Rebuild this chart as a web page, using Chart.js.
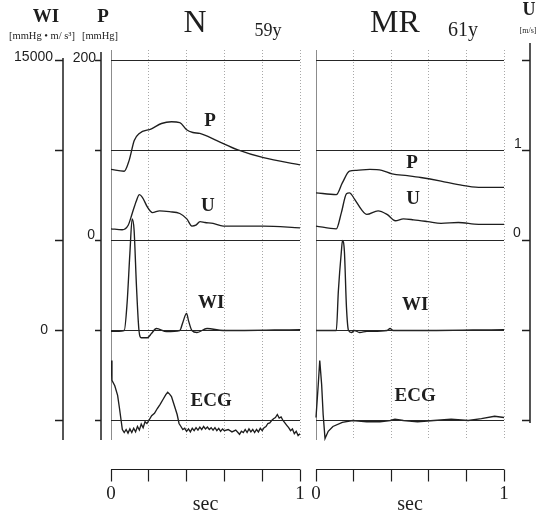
<!DOCTYPE html>
<html>
<head>
<meta charset="utf-8">
<script src="https://cdn.jsdelivr.net/npm/chart.js@4.4.1/dist/chart.umd.min.js"></script>
<style>
  html, body { margin: 0; padding: 0; background: #fff; }
  canvas { display: block; }
</style>
</head>
<body>
<canvas id="wave" width="540" height="515"></canvas>
<script>
/* Pressure, velocity, wave intensity and ECG: N (59y) vs MR (61y). */
const INK = "#1e1e1e";
const SERIF = "'Liberation Serif', 'DejaVu Serif', serif";
const SANS = "'Liberation Sans', Arial, sans-serif";

// ---- N, 59y (time in sec) ----
const nPTime = [0, 0.07, 0.096, 0.123, 0.15, 0.214, 0.267, 0.32, 0.364, 0.40, 0.433, 0.47, 0.56, 0.668, 0.807, 1.0];
const nP = [79, 77, 89, 111, 119, 124, 130, 132, 131, 123, 120, 119, 111, 101, 92, 84];          // mmHg

const nUTime = [0, 0.059, 0.091, 0.112, 0.134, 0.15, 0.166, 0.193, 0.219, 0.257, 0.31, 0.364, 0.401, 0.428, 0.449, 0.471, 0.497, 0.54, 0.594, 0.684, 0.807, 1.0];
const nU = [0.13, 0.12, 0.17, 0.30, 0.44, 0.51, 0.48, 0.37, 0.31, 0.33, 0.32, 0.30, 0.24, 0.16, 0.17, 0.21, 0.20, 0.19, 0.16, 0.16, 0.16, 0.14]; // m/s

const nWITime = [0, 0.07, 0.085, 0.1, 0.112, 0.122, 0.135, 0.148, 0.16, 0.193, 0.214, 0.24, 0.294, 0.364, 0.38, 0.40, 0.41, 0.428, 0.455, 0.508, 0.594, 1.0];
const nWI = [-50, 0, 1500, 4300, 6200, 5600, 2400, 0, -400, -400, -170, 110, -60, 0, 450, 950, 550, 0, -110, 110, 0, 50];

const nECGTime = [0, 0.005, 0.02, 0.035, 0.045, 0.06, 0.07, 0.08, 0.09, 0.1, 0.11, 0.12, 0.13, 0.14, 0.15, 0.16, 0.17, 0.18, 0.19, 0.2,
  0.215, 0.23, 0.245, 0.26, 0.275, 0.29, 0.3, 0.31, 0.32, 0.33, 0.34, 0.35, 0.36, 0.37, 0.38, 0.39, 0.4, 0.41, 0.42, 0.43,
  0.44, 0.45, 0.46, 0.47, 0.48, 0.49, 0.5, 0.51, 0.52, 0.53, 0.54, 0.55, 0.56, 0.57, 0.58, 0.59, 0.6, 0.62, 0.64, 0.66,
  0.68, 0.69, 0.7, 0.71, 0.72, 0.73, 0.74, 0.75, 0.76, 0.77, 0.78, 0.79, 0.8, 0.81, 0.82, 0.83, 0.84, 0.85, 0.86, 0.87,
  0.88, 0.89, 0.9, 0.91, 0.92, 0.93, 0.94, 0.95, 0.96, 0.97, 0.98, 0.99, 1.0];
const nECG = [1.0, 0.67, 0.58, 0.42, 0.2, -0.15, -0.2, -0.15, -0.21, -0.14, -0.2, -0.13, -0.19, -0.1, -0.16, -0.06, -0.12, -0.02, -0.05, 0.0,
  0.08, 0.12, 0.2, 0.27, 0.35, 0.43, 0.47, 0.44, 0.4, 0.3, 0.2, 0.1, -0.05, -0.1, -0.15, -0.13, -0.18, -0.14, -0.19, -0.13,
  -0.17, -0.12, -0.16, -0.11, -0.15, -0.1, -0.14, -0.11, -0.15, -0.12, -0.16, -0.12, -0.17, -0.13, -0.18, -0.14, -0.17, -0.15, -0.19, -0.16,
  -0.23, -0.18, -0.2, -0.15, -0.2, -0.14, -0.19, -0.15, -0.2, -0.15, -0.19, -0.13, -0.17, -0.12, -0.1, -0.05, -0.04, 0.0, 0.03, 0.05,
  0.1, 0.04, 0.06, 0.0, -0.04, -0.08, -0.12, -0.17, -0.14, -0.22, -0.18, -0.25, -0.22];

// ---- MR, 61y ----
const mrPTime = [0, 0.108, 0.14, 0.178, 0.216, 0.286, 0.35, 0.405, 0.486, 0.557, 0.665, 0.757, 0.865, 1.0];
const mrP = [53, 51, 64, 77, 78, 79, 78, 74, 72, 70, 66, 62, 59, 59];

const mrUTime = [0, 0.108, 0.135, 0.162, 0.178, 0.205, 0.243, 0.27, 0.33, 0.378, 0.422, 0.465, 0.519, 0.595, 0.665, 0.757, 0.865, 1.0];
const mrU = [0.16, 0.13, 0.31, 0.52, 0.53, 0.46, 0.34, 0.29, 0.33, 0.29, 0.22, 0.24, 0.23, 0.21, 0.19, 0.20, 0.18, 0.18];

const mrWITime = [0, 0.108, 0.119, 0.135, 0.141, 0.151, 0.162, 0.173, 0.189, 0.205, 0.232, 0.27, 0.378, 0.394, 0.41, 0.503, 1.0];
const mrWI = [0, 0, 2200, 4400, 5000, 4400, 1300, 0, -110, 0, -110, -50, 0, 110, 0, 0, 50];

const mrECGTime = [0, 0.012, 0.02, 0.03, 0.038, 0.048, 0.065, 0.09, 0.14, 0.195, 0.27, 0.34, 0.395, 0.42, 0.465, 0.54, 0.627, 0.719, 0.81, 0.88, 0.95, 1.0];
const mrECG = [0.05, 0.6, 1.0, 0.6, 0.1, -0.3, -0.18, -0.1, -0.03, 0, -0.02, -0.02, 0, 0.02, 0, -0.02, 0, 0.02, 0, 0.03, 0.07, 0.05];

// reference lines and ticks
const refP = [200, 100, 0];
const refWI = [0];
const refECG = [0];
const pTicks = [200, 100, 0, -100, -200];
const wiTicks = [15000, 10000, 5000, 0, -5000];
const uTicks = [2, 1, 0, -1, -2];
const secTicks = [0, 0.2, 0.4, 0.6, 0.8, 1];

// ---- layout (pixels) ----
const AREA = { left: 111, right: 504, top: 40, bottom: 450 };
const N_X0 = 111, N_PPS = 189, MR_X0 = 316, MR_PPS = 188;
const GRID_TOP = 50, GRID_BOTTOM = 440;

// value v0 sits at pixel px0, pxPerUnit pixels per unit
function yRange(v0, px0, pxPerUnit) {
  return { min: v0 - (AREA.bottom - px0) / pxPerUnit, max: v0 + (px0 - AREA.top) / pxPerUnit };
}

function pts(xs, ys) { return xs.map((x, i) => ({ x, y: ys[i] })); }

function trace(xs, ys, xID, yID, smooth) {
  return { data: pts(xs, ys), xAxisID: xID, yAxisID: yID, showLine: true, borderColor: INK,
    borderWidth: 1.35, pointRadius: 0, cubicInterpolationMode: smooth ? "monotone" : "default", tension: 0 };
}
function refLine(v, xID, yID) {
  return { data: [{ x: 0, y: v }, { x: 1, y: v }], xAxisID: xID, yAxisID: yID, showLine: true,
    borderColor: "#262626", borderWidth: 1, pointRadius: 0 };
}

const datasets = [];
["xN", "xMR"].forEach(xID => {
  refP.forEach(v => datasets.push(refLine(v, xID, "yP")));
  refWI.forEach(v => datasets.push(refLine(v, xID, "yWI")));
  refECG.forEach(v => datasets.push(refLine(v, xID, "yECG")));
});
datasets.push(
  trace(nPTime, nP, "xN", "yP", true), trace(nUTime, nU, "xN", "yU", true),
  trace(nWITime, nWI, "xN", "yWI", true), trace(nECGTime, nECG, "xN", "yECG", false),
  trace(mrPTime, mrP, "xMR", "yP", true), trace(mrUTime, mrU, "xMR", "yU", true),
  trace(mrWITime, mrWI, "xMR", "yWI", true), trace(mrECGTime, mrECG, "xMR", "yECG", false)
);

// in-panel labels, in data coordinates
const traceLabels = [
  ["xN", "yP", 0.524, 133, "P"], ["xN", "yU", 0.513, 0.38, "U"], ["xN", "yWI", 0.53, 1500, "WI"], ["xN", "yECG", 0.53, 0.32, "ECG"],
  ["xMR", "yP", 0.511, 86, "P"], ["xMR", "yU", 0.516, 0.46, "U"], ["xMR", "yWI", 0.527, 1400, "WI"], ["xMR", "yECG", 0.527, 0.4, "ECG"]
];

function seg(ctx, x1, y1, x2, y2) { ctx.beginPath(); ctx.moveTo(x1, y1); ctx.lineTo(x2, y2); ctx.stroke(); }
function crisp(v) { return Math.floor(v) + 0.5; }
function text(ctx, s, x, y, font, align, base) {
  ctx.font = font; ctx.textAlign = align || "center"; ctx.textBaseline = base || "middle"; ctx.fillText(s, x, y);
}

const waveDecor = {
  id: "waveDecor",
  beforeDatasetsDraw(chart) {
    const { ctx, scales } = chart;
    ctx.save();
    [scales.xN, scales.xMR].forEach(xs => {
      const x0 = crisp(xs.getPixelForValue(0));
      ctx.setLineDash([]); ctx.strokeStyle = "#8c8c8c"; ctx.lineWidth = 1;
      seg(ctx, x0, GRID_TOP, x0, GRID_BOTTOM);
      ctx.setLineDash([1, 2]); ctx.strokeStyle = "#a8a8a8";
      secTicks.slice(1).forEach(t => { const x = crisp(xs.getPixelForValue(t)); seg(ctx, x, GRID_TOP, x, GRID_BOTTOM); });
    });
    ctx.restore();
  },
  afterDraw(chart) {
    const { ctx, scales } = chart;
    ctx.save();
    ctx.setLineDash([]);
    ctx.strokeStyle = INK; ctx.fillStyle = INK; ctx.lineWidth = 1.5;

    // WI axis
    const wiX = 63;
    seg(ctx, wiX, 58, wiX, 440);
    wiTicks.forEach(v => { const y = crisp(scales.yWI.getPixelForValue(v)); seg(ctx, wiX - 8, y, wiX, y); });
    text(ctx, "15000", 53, scales.yWI.getPixelForValue(15000), "14px " + SANS, "right", "alphabetic");
    text(ctx, "0", 48, scales.yWI.getPixelForValue(0), "14px " + SANS, "right", "middle");

    // P axis
    const pX = 101;
    seg(ctx, pX, 52, pX, 440);
    pTicks.forEach(v => { const y = crisp(scales.yP.getPixelForValue(v)); seg(ctx, pX - 6, y, pX, y); });
    text(ctx, "200", 96, scales.yP.getPixelForValue(200) + 1, "14px " + SANS, "right", "alphabetic");
    text(ctx, "0", 95, scales.yP.getPixelForValue(0) - 2, "14px " + SANS, "right", "alphabetic");

    // U axis
    const uX = 530;
    seg(ctx, uX, 43, uX, 423);
    uTicks.forEach(v => { const y = crisp(scales.yU.getPixelForValue(v)); seg(ctx, uX - 8, y, uX, y); });
    text(ctx, "1", 514, scales.yU.getPixelForValue(1) - 3, "14px " + SANS, "left", "alphabetic");
    text(ctx, "0", 513, scales.yU.getPixelForValue(0) - 4, "14px " + SANS, "left", "alphabetic");

    // time axes
    ctx.lineWidth = 1.2;
    [scales.xN, scales.xMR].forEach(xs => {
      const a = xs.getPixelForValue(0), b = xs.getPixelForValue(1), y = 469.5;
      seg(ctx, a, y, b, y);
      secTicks.forEach(t => { const x = crisp(xs.getPixelForValue(t)); seg(ctx, x, y, x, y + 12); });
      text(ctx, "0", a, 494, "19px " + SERIF);
      text(ctx, "1", b, 494, "19px " + SERIF);
      text(ctx, "sec", (a + b) / 2, 505, "20px " + SERIF);
    });

    // trace labels
    traceLabels.forEach(([xID, yID, t, v, s]) => {
      text(ctx, s, scales[xID].getPixelForValue(t), scales[yID].getPixelForValue(v), "bold 19px " + SERIF);
    });

    // headers
    text(ctx, "WI", 46, 17, "bold 19px " + SERIF);
    text(ctx, "P", 103, 17, "bold 19px " + SERIF);
    text(ctx, "[mmHg \u2022 m/ s\u00b3]", 42, 36, "10.5px " + SERIF);
    text(ctx, "[mmHg]", 100, 36, "10.5px " + SERIF);
    text(ctx, "U", 529, 10, "bold 18px " + SERIF);
    text(ctx, "[m/s]", 528, 31, "8px " + SERIF);
    text(ctx, "N", 195, 24, "32px " + SERIF);
    text(ctx, "59y", 268, 31, "18px " + SERIF);
    text(ctx, "MR", 395, 24, "32px " + SERIF);
    text(ctx, "61y", 463, 31, "20px " + SERIF);
    ctx.restore();
  }
};

// half-pixel anchors keep the 1px reference lines crisp
const rP = yRange(0, 240.5, 0.9), rU = yRange(0, 240.5, 90), rWI = yRange(0, 330.5, 0.018), rECG = yRange(0, 420.5, 60);

new Chart(document.getElementById("wave"), {
  type: "scatter",
  data: { datasets },
  options: {
    responsive: false, animation: false, events: [],
    layout: { padding: { left: AREA.left, right: 540 - AREA.right, top: AREA.top, bottom: 515 - AREA.bottom } },
    plugins: { legend: { display: false }, tooltip: { enabled: false } },
    scales: {
      xN: { type: "linear", axis: "x", display: false, min: 0, max: (AREA.right - N_X0) / N_PPS },
      xMR: { type: "linear", axis: "x", display: false, min: -(MR_X0 - AREA.left) / MR_PPS, max: (AREA.right - MR_X0) / MR_PPS },
      yP: { type: "linear", axis: "y", display: false, min: rP.min, max: rP.max },
      yU: { type: "linear", axis: "y", display: false, min: rU.min, max: rU.max },
      yWI: { type: "linear", axis: "y", display: false, min: rWI.min, max: rWI.max },
      yECG: { type: "linear", axis: "y", display: false, min: rECG.min, max: rECG.max }
    }
  },
  plugins: [waveDecor]
});
</script>
</body>
</html>
